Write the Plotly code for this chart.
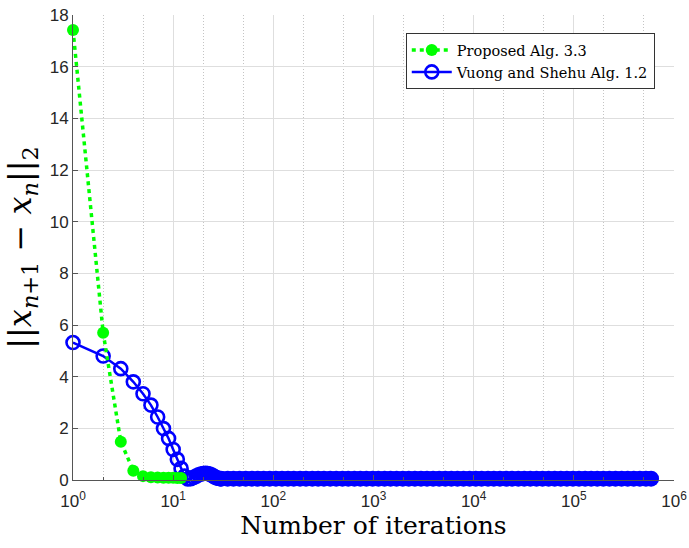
import plotly.graph_objects as go

# ---- data ----
green_x = [1, 2, 3, 4, 5, 6, 7, 8, 9, 10, 11, 12]
green_y = [17.42, 5.70, 1.48, 0.36, 0.15, 0.11, 0.10, 0.09, 0.09, 0.09, 0.08, 0.08]

blue_x = list(range(1, 31))
blue_y = [5.32, 4.80, 4.31, 3.80, 3.34, 2.90, 2.44, 1.99, 1.61, 1.18,
          0.80, 0.45, 0.15, 0.04, 0.05, 0.10, 0.15, 0.20, 0.23, 0.25,
          0.26, 0.25, 0.23, 0.20, 0.16, 0.12, 0.09, 0.07, 0.06, 0.05]

# sampled iterations of the long tail (the band of overlapping markers)
tail_x = [30, 35, 40, 46, 53, 61, 70, 80, 92, 106, 122, 140, 160, 185, 212, 245,
          280, 320, 370, 425, 490, 560, 645, 740, 850, 980, 1120, 1290, 1480, 1700,
          1960, 2250, 2590, 2980, 3420, 3940, 4530, 5210, 5990, 6890, 7920, 9110,
          10500, 12000, 13900, 15900, 18300, 21100, 24200, 27900, 32000, 36800,
          42400, 48700, 56000, 64400, 74100, 85200, 98000, 112700, 129600, 149000,
          171400, 197100, 226700, 260700, 299800, 344800, 396500, 456000, 524400, 590000]
tail_y = [0.05, 0.05, 0.05, 0.05, 0.05, 0.05, 0.05, 0.05, 0.05, 0.05, 0.05, 0.05,
          0.05, 0.05, 0.05, 0.05, 0.05, 0.05, 0.05, 0.05, 0.05, 0.05, 0.05, 0.05,
          0.05, 0.05, 0.05, 0.05, 0.05, 0.05, 0.05, 0.05, 0.05, 0.05, 0.05, 0.05,
          0.05, 0.05, 0.05, 0.05, 0.05, 0.05, 0.05, 0.05, 0.05, 0.05, 0.05, 0.05,
          0.05, 0.05, 0.05, 0.05, 0.05, 0.05, 0.05, 0.05, 0.05, 0.05, 0.05, 0.05,
          0.05, 0.05, 0.05, 0.05, 0.05, 0.05, 0.05, 0.05, 0.05, 0.05, 0.05, 0.05]

x_tickvals = [1, 10, 100, 1000, 10000, 100000, 1000000]
x_ticktext = ["10<sup>0</sup>", "10<sup>1</sup>", "10<sup>2</sup>", "10<sup>3</sup>",
              "10<sup>4</sup>", "10<sup>5</sup>", "10<sup>6</sup>"]
y_tickvals = [0, 2, 4, 6, 8, 10, 12, 14, 16, 18]

GREEN = "#00ff00"
BLUE = "#0000ff"

fig = go.Figure()

fig.add_trace(go.Scatter(
    x=tail_x, y=tail_y, mode="markers", showlegend=False,
    marker=dict(symbol="circle", size=16, color=BLUE, line=dict(width=0)),
    cliponaxis=False, hoverinfo="skip"))

fig.add_trace(go.Scatter(
    x=blue_x, y=blue_y, mode="lines+markers", name="Vuong and Shehu Alg. 1.2",
    line=dict(color=BLUE, width=2.5),
    marker=dict(symbol="circle-open", size=13, color=BLUE, line=dict(width=2.6, color=BLUE)),
    cliponaxis=False))

fig.add_trace(go.Scatter(
    x=green_x, y=green_y, mode="lines+markers", name="Proposed Alg. 3.3",
    line=dict(color=GREEN, width=3.5, dash="4px,4px"),
    marker=dict(symbol="circle", size=12, color=GREEN),
    cliponaxis=False))

AXCOL = "#555555"
fig.update_layout(
    width=689, height=548,
    margin=dict(l=73, r=15, t=15, b=68),
    paper_bgcolor="white", plot_bgcolor="white",
    showlegend=True,
    legend=dict(
        x=0.968, y=0.961, xanchor="right", yanchor="top",
        bgcolor="white", bordercolor="#333333", borderwidth=1,
        font=dict(family="DejaVu Serif", size=14.5, color="black"),
        traceorder="reversed", itemwidth=40, tracegroupgap=0,
    ),
    xaxis=dict(
        type="log", range=[0, 6], automargin=False,
        tickvals=x_tickvals, ticktext=x_ticktext,
        ticks="inside", ticklen=5, tickcolor=AXCOL,
        ticklabelstandoff=6, ticklabeloverflow="allow",
        showline=True, linecolor=AXCOL, linewidth=1, mirror=False,
        showgrid=True, gridcolor="#dedede", gridwidth=1,
        zeroline=False,
        minor=dict(ticks="inside", ticklen=3, tickcolor=AXCOL,
                   showgrid=True, gridcolor="#c4c4c4", griddash="1px,2px", gridwidth=1),
        tickfont=dict(family="Liberation Sans", size=17, color="#262626"),
        title=dict(text="Number of iterations",
                   font=dict(family="DejaVu Serif", size=25, color="black"),
                   standoff=0),
    ),
    yaxis=dict(
        range=[0, 18], tickvals=y_tickvals, automargin=False,
        ticks="inside", ticklen=5, tickcolor=AXCOL, ticklabeloverflow="allow",
        showline=True, linecolor=AXCOL, linewidth=1, mirror=False,
        showgrid=True, gridcolor="#dedede", gridwidth=1,
        zeroline=False,
        tickfont=dict(family="Liberation Sans", size=17, color="#262626"),
        title=dict(text="||<i>x</i><sub><i>n</i>+1</sub> − <i>x</i><sub><i>n</i></sub>||<sub>2</sub>",
                   font=dict(family="DejaVu Serif", size=32, color="black"),
                   standoff=8),
    ),
)

fig.write_html("out.html",
               config={"displayModeBar": False},
               post_script="document.body.style.margin='0';document.body.style.overflow='hidden';")
